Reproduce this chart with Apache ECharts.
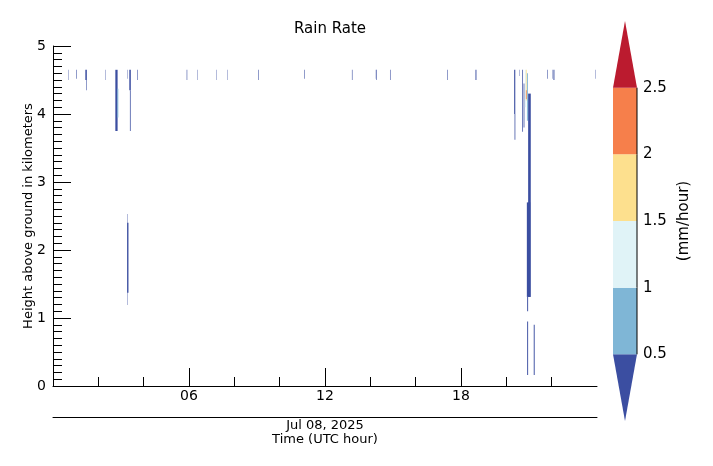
<!DOCTYPE html>
<html>
<head>
<meta charset="utf-8">
<script src="https://cdn.jsdelivr.net/npm/echarts@6/dist/echarts.min.js"></script>
<style>
html,body{margin:0;padding:0;background:#fff;}
#chart{width:713px;height:466px;}
</style>
</head>
<body>
<div id="chart"></div>
<script>
// Rain-rate cells: centre time (UTC hour), width (minutes), bottom / top height (km), rate (mm/hour)
const cellHours   = [0.68, 1.03, 1.46, 1.47, 2.32, 2.80, 2.86, 3.28, 3.40, 3.41, 3.72, 3.30, 3.30,
                     5.91, 6.38, 7.22, 7.71, 9.06, 11.09, 13.20, 14.25, 14.28, 14.88, 17.41, 18.66,
                     20.37, 20.38, 20.57, 20.72, 20.78, 21.02, 20.98, 20.94, 20.94, 21.23,
                     20.84, 20.88, 20.88, 20.93, 21.82, 22.05, 22.10, 23.94];
const cellMinutes = [1, 1.5, 4, 1.5, 1, 6, 2.5, 1, 4, 2, 1.5, 1, 3.5,
                     1.5, 1, 1, 1, 1.5, 1.5, 1.5, 1, 1.5, 1.5, 1.5, 2.5,
                     3, 2, 1, 2, 2, 7, 9, 2.5, 2.5, 2.5,
                     2.5, 2, 2, 2.5, 1.5, 1, 2.5, 1];
const cellBottoms = [4.50, 4.52, 4.50, 4.35, 4.50, 3.75, 3.95, 4.52, 4.35, 3.75, 4.50, 1.19, 1.37,
                     4.50, 4.50, 4.50, 4.50, 4.50, 4.52, 4.50, 4.52, 4.50, 4.50, 4.50, 4.50,
                     4.00, 3.62, 4.56, 3.74, 3.80, 1.31, 1.31, 0.16, 1.10, 0.16,
                     4.10, 4.20, 4.22, 3.90, 4.52, 4.52, 4.50, 4.52];
const cellTops    = [4.65, 4.65, 4.65, 4.50, 4.65, 4.65, 4.37, 4.65, 4.65, 4.35, 4.65, 2.53, 2.40,
                     4.65, 4.65, 4.65, 4.65, 4.65, 4.65, 4.65, 4.65, 4.65, 4.65, 4.65, 4.65,
                     4.65, 4.00, 4.65, 4.65, 4.45, 4.30, 2.70, 0.95, 1.31, 0.90,
                     4.65, 4.65, 4.35, 4.60, 4.65, 4.65, 4.65, 4.65];
const cellRates   = [0.3, 0.3, 0.3, 0.3, 0.3, 0.3, 0.7, 0.3, 0.3, 0.3, 0.3, 0.3, 0.3,
                     0.3, 0.3, 0.3, 0.3, 0.3, 0.3, 0.3, 0.3, 0.3, 0.3, 0.3, 0.3,
                     0.3, 0.3, 0.3, 0.3, 0.3, 0.3, 0.3, 0.3, 0.3, 0.3,
                     1.2, 1.7, 2.2, 0.7, 0.3, 0.3, 0.3, 0.3];

// Colour scale
const rateLevels = [0.5, 1, 1.5, 2, 2.5];
const rateColors = ['#3b4ea1', '#7fb6d6', '#e0f3f7', '#fde08e', '#f67f4b', '#bb1b2f'];

// Axis ticks
const hourMajorTicks = [6, 12, 18];
const hourMinorTicks = [2, 4, 8, 10, 14, 16, 20, 22];
const heightTicks = [0, 1, 2, 3, 4, 5];

function colorFor(r) {
  let i = 0;
  while (i < rateLevels.length && r >= rateLevels[i]) i++;
  return rateColors[i];
}

const cellData = cellHours.map((t, i) => [t, cellMinutes[i], cellBottoms[i], cellTops[i], cellRates[i]]);

// colour bar segments: [low, high, colourIndex, kind]
const barData = [];
barData.push([0, rateLevels[0], 0, 'triDown']);
for (let i = 0; i < rateLevels.length - 1; i++) barData.push([rateLevels[i], rateLevels[i + 1], i + 1, 'rect']);
barData.push([rateLevels[rateLevels.length - 1], 3, rateColors.length - 1, 'triUp']);

const font = 'DejaVu Sans';
const chart = echarts.init(document.getElementById('chart'), null, {renderer: 'canvas'});

chart.setOption({
  animation: false,
  backgroundColor: '#fff',
  textStyle: {fontFamily: font, color: '#000'},
  title: {
    text: 'Rain Rate', left: 325, top: 17, textAlign: 'center',
    textStyle: {fontFamily: font, fontSize: 15, fontWeight: 'normal', color: '#000'}
  },
  grid: [
    {left: 53, right: 116, top: 46, bottom: 80},
    {left: 613, top: 21, width: 24, height: 400}
  ],
  xAxis: [
    {
      type: 'value', gridIndex: 0, min: 0, max: 24, position: 'bottom',
      axisLine: {show: true, onZero: false, lineStyle: {color: '#000', width: 1}},
      axisTick: {show: true, inside: true, length: 18, customValues: hourMajorTicks, lineStyle: {color: '#000'}},
      axisLabel: {show: true, customValues: hourMajorTicks, margin: 3, fontSize: 14, color: '#000', fontFamily: font,
                  formatter: v => (v < 10 ? '0' : '') + v},
      splitLine: {show: false}
    },
    {
      type: 'value', gridIndex: 0, min: 0, max: 24, position: 'bottom',
      axisLine: {show: false},
      axisTick: {show: true, inside: true, length: 9, customValues: hourMinorTicks, lineStyle: {color: '#000'}},
      axisLabel: {show: false},
      splitLine: {show: false}
    },
    {
      type: 'value', gridIndex: 0, min: 0, max: 24, position: 'bottom', offset: 31,
      axisLine: {show: true, onZero: false, lineStyle: {color: '#000', width: 1}},
      axisTick: {show: false}, axisLabel: {show: false}, splitLine: {show: false},
      name: 'Jul 08, 2025\nTime (UTC hour)', nameLocation: 'middle', nameGap: 1, nameMoveOverlap: false,
      nameTextStyle: {fontFamily: font, fontSize: 13, color: '#000', lineHeight: 14.5, verticalAlign: 'top'}
    },
    {
      type: 'value', gridIndex: 1, min: 0, max: 1, show: false
    }
  ],
  yAxis: [
    {
      type: 'value', gridIndex: 0, min: 0, max: 5, interval: 1,
      axisLine: {show: true, onZero: false, lineStyle: {color: '#000', width: 1}},
      axisTick: {show: true, inside: true, length: 18, lineStyle: {color: '#000'}},
      minorTick: {show: true, splitNumber: 10, length: 9, lineStyle: {color: '#000'}},
      axisLabel: {show: true, margin: 7, fontSize: 14, color: '#000', fontFamily: font, customValues: heightTicks},
      splitLine: {show: false},
      name: 'Height above ground in kilometers', nameLocation: 'middle', nameGap: 18, nameMoveOverlap: false,
      nameTextStyle: {fontFamily: font, fontSize: 13, color: '#000'}
    },
    {
      type: 'value', gridIndex: 1, min: 0, max: 3, interval: 0.5, position: 'right',
      axisLine: {show: false}, axisTick: {show: false}, splitLine: {show: false},
      axisLabel: {show: true, margin: 6, fontSize: 15, color: '#000', fontFamily: font, customValues: rateLevels,
                  formatter: v => String(v)},
      name: '(mm/hour)', nameLocation: 'middle', nameGap: 40, nameRotate: 90, nameMoveOverlap: false,
      nameTextStyle: {fontFamily: font, fontSize: 15, color: '#000'}
    }
  ],
  series: [
    {
      type: 'custom', xAxisIndex: 0, yAxisIndex: 0, clip: true,
      encode: {x: 0, y: [2, 3]},
      data: cellData,
      renderItem: function (params, api) {
        const t = api.value(0), w = api.value(1), b = api.value(2), top = api.value(3), r = api.value(4);
        const p0 = api.coord([t - w / 120, top]);
        const p1 = api.coord([t + w / 120, b]);
        return {
          type: 'rect',
          shape: {x: p0[0], y: p0[1], width: p1[0] - p0[0], height: p1[1] - p0[1]},
          style: {fill: colorFor(r)}
        };
      }
    },
    {
      type: 'custom', xAxisIndex: 3, yAxisIndex: 1, clip: false,
      encode: {x: -1, y: [0, 1]},
      data: barData,
      renderItem: function (params, api) {
        const lo = api.value(0), hi = api.value(1), ci = api.value(2);
        const kind = barData[params.dataIndex][3];
        const a = api.coord([0, lo]), b = api.coord([1, hi]);
        const color = rateColors[ci];
        if (kind === 'triDown') {
          const tip = api.coord([0.5, lo]);
          return {type: 'polygon', shape: {points: [[a[0], b[1]], [b[0], b[1]], [tip[0], tip[1]]]}, style: {fill: color}};
        }
        if (kind === 'triUp') {
          const tip = api.coord([0.5, hi]);
          return {type: 'polygon', shape: {points: [[a[0], a[1]], [b[0], a[1]], [tip[0], tip[1]]]}, style: {fill: color}};
        }
        return {
          type: 'group',
          children: [
            {type: 'rect', shape: {x: a[0], y: b[1], width: b[0] - a[0], height: a[1] - b[1]}, style: {fill: color}},
            {type: 'line', shape: {x1: b[0], y1: b[1], x2: b[0], y2: a[1]}, style: {stroke: '#000', lineWidth: 1}}
          ]
        };
      }
    }
  ]
});
</script>
</body>
</html>
